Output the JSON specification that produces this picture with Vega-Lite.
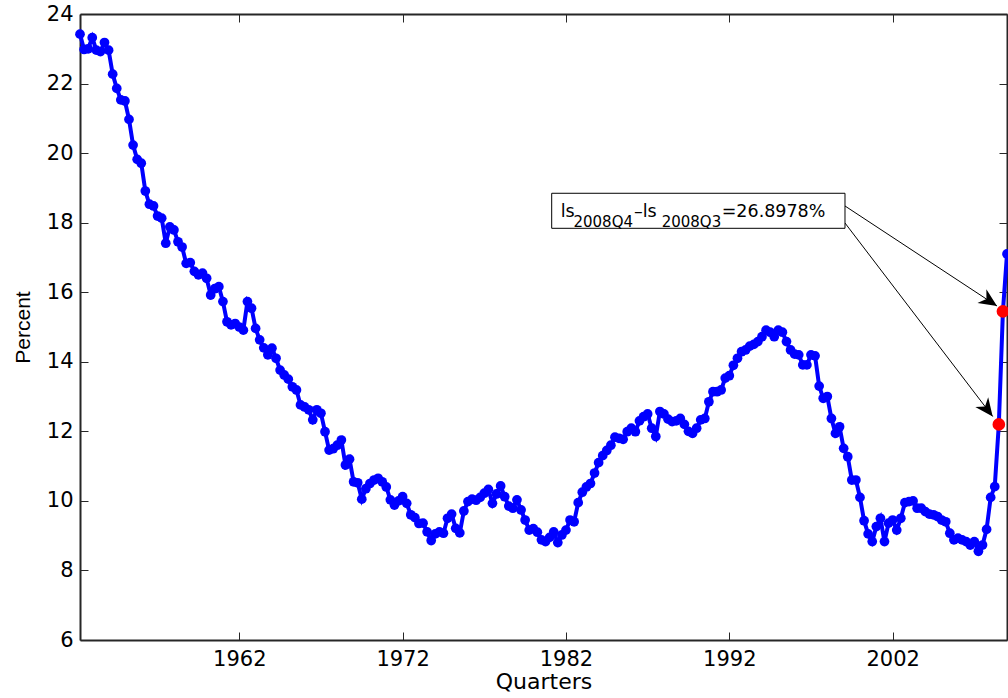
{
  "$schema": "https://vega.github.io/schema/vega-lite/v6.json",
  "width": 927,
  "height": 626,
  "autosize": {"type": "none"},
  "padding": {"left": 80, "top": 14, "right": 1, "bottom": 58},
  "background": "white",
  "config": {"view": {"stroke": null}, "axis": {"grid": false}},
  "datasets": {
    "ls": [
      {"t":1952.25,"v":23.42},{"t":1952.5,"v":22.98},{"t":1952.75,"v":23.0},
      {"t":1953,"v":23.32},{"t":1953.25,"v":22.96},{"t":1953.5,"v":22.92},{"t":1953.75,"v":23.18},
      {"t":1954,"v":22.96},{"t":1954.25,"v":22.27},{"t":1954.5,"v":21.86},{"t":1954.75,"v":21.53},
      {"t":1955,"v":21.5},{"t":1955.25,"v":20.97},{"t":1955.5,"v":20.23},{"t":1955.75,"v":19.82},
      {"t":1956,"v":19.71},{"t":1956.25,"v":18.91},{"t":1956.5,"v":18.53},{"t":1956.75,"v":18.48},
      {"t":1957,"v":18.19},{"t":1957.25,"v":18.13},{"t":1957.5,"v":17.41},{"t":1957.75,"v":17.88},
      {"t":1958,"v":17.79},{"t":1958.25,"v":17.45},{"t":1958.5,"v":17.3},{"t":1958.75,"v":16.83},
      {"t":1959,"v":16.85},{"t":1959.25,"v":16.6},{"t":1959.5,"v":16.5},{"t":1959.75,"v":16.55},
      {"t":1960,"v":16.4},{"t":1960.25,"v":15.92},{"t":1960.5,"v":16.1},{"t":1960.75,"v":16.16},
      {"t":1961,"v":15.73},{"t":1961.25,"v":15.15},{"t":1961.5,"v":15.06},{"t":1961.75,"v":15.1},
      {"t":1962,"v":15.0},{"t":1962.25,"v":14.91},{"t":1962.5,"v":15.73},{"t":1962.75,"v":15.54},
      {"t":1963,"v":14.96},{"t":1963.25,"v":14.63},{"t":1963.5,"v":14.4},{"t":1963.75,"v":14.2},
      {"t":1964,"v":14.39},{"t":1964.25,"v":14.1},{"t":1964.5,"v":13.76},{"t":1964.75,"v":13.62},
      {"t":1965,"v":13.5},{"t":1965.25,"v":13.28},{"t":1965.5,"v":13.19},{"t":1965.75,"v":12.76},
      {"t":1966,"v":12.7},{"t":1966.25,"v":12.62},{"t":1966.5,"v":12.33},{"t":1966.75,"v":12.62},
      {"t":1967,"v":12.52},{"t":1967.25,"v":11.99},{"t":1967.5,"v":11.46},{"t":1967.75,"v":11.5},
      {"t":1968,"v":11.6},{"t":1968.25,"v":11.75},{"t":1968.5,"v":11.03},{"t":1968.75,"v":11.2},
      {"t":1969,"v":10.55},{"t":1969.25,"v":10.52},{"t":1969.5,"v":10.05},{"t":1969.75,"v":10.35},
      {"t":1970,"v":10.5},{"t":1970.25,"v":10.6},{"t":1970.5,"v":10.65},{"t":1970.75,"v":10.55},
      {"t":1971,"v":10.4},{"t":1971.25,"v":10.03},{"t":1971.5,"v":9.88},{"t":1971.75,"v":10.0},
      {"t":1972,"v":10.12},{"t":1972.25,"v":9.93},{"t":1972.5,"v":9.6},{"t":1972.75,"v":9.52},
      {"t":1973,"v":9.35},{"t":1973.25,"v":9.36},{"t":1973.5,"v":9.11},{"t":1973.75,"v":8.86},
      {"t":1974,"v":9.05},{"t":1974.25,"v":9.11},{"t":1974.5,"v":9.07},{"t":1974.75,"v":9.5},
      {"t":1975,"v":9.62},{"t":1975.25,"v":9.21},{"t":1975.5,"v":9.08},{"t":1975.75,"v":9.71},
      {"t":1976,"v":9.98},{"t":1976.25,"v":10.05},{"t":1976.5,"v":10.02},{"t":1976.75,"v":10.1},
      {"t":1977,"v":10.22},{"t":1977.25,"v":10.33},{"t":1977.5,"v":9.93},{"t":1977.75,"v":10.2},
      {"t":1978,"v":10.43},{"t":1978.25,"v":10.12},{"t":1978.5,"v":9.85},{"t":1978.75,"v":9.79},
      {"t":1979,"v":10.03},{"t":1979.25,"v":9.74},{"t":1979.5,"v":9.45},{"t":1979.75,"v":9.16},
      {"t":1980,"v":9.2},{"t":1980.25,"v":9.1},{"t":1980.5,"v":8.88},{"t":1980.75,"v":8.83},
      {"t":1981,"v":8.95},{"t":1981.25,"v":9.11},{"t":1981.5,"v":8.8},{"t":1981.75,"v":9.02},
      {"t":1982,"v":9.16},{"t":1982.25,"v":9.45},{"t":1982.5,"v":9.4},{"t":1982.75,"v":9.95},
      {"t":1983,"v":10.25},{"t":1983.25,"v":10.4},{"t":1983.5,"v":10.5},{"t":1983.75,"v":10.8},
      {"t":1984,"v":11.1},{"t":1984.25,"v":11.3},{"t":1984.5,"v":11.45},{"t":1984.75,"v":11.6},
      {"t":1985,"v":11.83},{"t":1985.25,"v":11.8},{"t":1985.5,"v":11.77},{"t":1985.75,"v":11.99},
      {"t":1986,"v":12.09},{"t":1986.25,"v":11.99},{"t":1986.5,"v":12.3},{"t":1986.75,"v":12.42},
      {"t":1987,"v":12.5},{"t":1987.25,"v":12.09},{"t":1987.5,"v":11.85},{"t":1987.75,"v":12.57},
      {"t":1988,"v":12.5},{"t":1988.25,"v":12.35},{"t":1988.5,"v":12.28},{"t":1988.75,"v":12.3},
      {"t":1989,"v":12.37},{"t":1989.25,"v":12.2},{"t":1989.5,"v":12.0},{"t":1989.75,"v":11.94},
      {"t":1990,"v":12.09},{"t":1990.25,"v":12.33},{"t":1990.5,"v":12.37},{"t":1990.75,"v":12.85},
      {"t":1991,"v":13.14},{"t":1991.25,"v":13.14},{"t":1991.5,"v":13.19},{"t":1991.75,"v":13.53},
      {"t":1992,"v":13.6},{"t":1992.25,"v":13.9},{"t":1992.5,"v":14.1},{"t":1992.75,"v":14.29},
      {"t":1993,"v":14.34},{"t":1993.25,"v":14.45},{"t":1993.5,"v":14.5},{"t":1993.75,"v":14.58},
      {"t":1994,"v":14.72},{"t":1994.25,"v":14.91},{"t":1994.5,"v":14.85},{"t":1994.75,"v":14.72},
      {"t":1995,"v":14.91},{"t":1995.25,"v":14.85},{"t":1995.5,"v":14.58},{"t":1995.75,"v":14.34},
      {"t":1996,"v":14.22},{"t":1996.25,"v":14.2},{"t":1996.5,"v":13.91},{"t":1996.75,"v":13.91},
      {"t":1997,"v":14.2},{"t":1997.25,"v":14.17},{"t":1997.5,"v":13.3},{"t":1997.75,"v":12.95},
      {"t":1998,"v":13.0},{"t":1998.25,"v":12.37},{"t":1998.5,"v":11.94},{"t":1998.75,"v":12.13},
      {"t":1999,"v":11.51},{"t":1999.25,"v":11.27},{"t":1999.5,"v":10.6},{"t":1999.75,"v":10.6},
      {"t":2000,"v":10.1},{"t":2000.25,"v":9.43},{"t":2000.5,"v":9.05},{"t":2000.75,"v":8.83},
      {"t":2001,"v":9.26},{"t":2001.25,"v":9.5},{"t":2001.5,"v":8.83},{"t":2001.75,"v":9.36},
      {"t":2002,"v":9.45},{"t":2002.25,"v":9.16},{"t":2002.5,"v":9.5},{"t":2002.75,"v":9.95},
      {"t":2003,"v":9.98},{"t":2003.25,"v":10.0},{"t":2003.5,"v":9.79},{"t":2003.75,"v":9.79},
      {"t":2004,"v":9.69},{"t":2004.25,"v":9.62},{"t":2004.5,"v":9.6},{"t":2004.75,"v":9.55},
      {"t":2005,"v":9.45},{"t":2005.25,"v":9.4},{"t":2005.5,"v":9.07},{"t":2005.75,"v":8.88},
      {"t":2006,"v":8.93},{"t":2006.25,"v":8.88},{"t":2006.5,"v":8.83},{"t":2006.75,"v":8.73},
      {"t":2007,"v":8.83},{"t":2007.25,"v":8.55},{"t":2007.5,"v":8.73},{"t":2007.75,"v":9.18},
      {"t":2008,"v":10.1},{"t":2008.25,"v":10.41},{"t":2008.5,"v":12.2},{"t":2008.75,"v":15.45},
      {"t":2009,"v":17.1}
    ],
    "arrows": [
      {"t1":1999.082,"v1":18.48,"t2":2008.387,"v2":15.604},
      {"t1":1999.082,"v1":17.99,"t2":2008.124,"v2":12.427}
    ],
    "box": [
      {"t1":1981.127,"t2":1999.082,"v1":18.845,"v2":17.838}
    ],
    "mainText": [
      {"t":1981.678,"v":18.17,"s":"ls"},
      {"t":1986.165,"v":18.17,"s":"–ls"},
      {"t":1991.534,"v":18.17,"s":"=26.8978%"}
    ],
    "subText": [
      {"t":1982.461,"v":17.867,"s":"2008Q4"},
      {"t":1987.861,"v":17.867,"s":"2008Q3"}
    ]
  },
  "layer": [
    {
      "data": {"name": "ls"},
      "mark": {"type": "line", "color": "#0000ff", "strokeWidth": 4},
      "encoding": {
        "x": {
          "field": "t", "type": "quantitative",
          "scale": {"domain": [1952.25, 2009], "nice": false, "zero": false},
          "axis": {
            "orient": "bottom", "values": [1962, 1972, 1982, 1992, 2002], "format": "d",
            "title": "Quarters", "titleFont": "DejaVu Sans", "titleFontSize": 22, "titleFontWeight": "normal",
            "titleColor": "#000000", "titlePadding": 2,
            "labelFont": "DejaVu Sans", "labelFontSize": 21, "labelColor": "#000000", "labelPadding": 16,
            "labelFlush": false, "labelOverlap": false,
            "tickSize": -8, "tickColor": "#262626", "tickWidth": 1,
            "domainColor": "#262626", "domainWidth": 2, "grid": false
          }
        },
        "y": {
          "field": "v", "type": "quantitative",
          "scale": {"domain": [6, 24], "nice": false, "zero": false},
          "axis": {
            "orient": "left", "values": [6, 8, 10, 12, 14, 16, 18, 20, 22, 24],
            "title": "Percent", "titleFont": "Liberation Sans", "titleFontSize": 21, "titleFontWeight": "normal",
            "titleColor": "#000000", "titlePadding": 13,
            "labelFont": "DejaVu Sans", "labelFontSize": 21, "labelColor": "#000000", "labelPadding": 15,
            "labelOverlap": false,
            "tickSize": -8, "tickColor": "#262626", "tickWidth": 1,
            "domainColor": "#262626", "domainWidth": 2, "grid": false
          }
        }
      }
    },
    {
      "data": {"name": "ls"},
      "mark": {"type": "point", "filled": true, "shape": "circle", "color": "#0000ff", "size": 95, "opacity": 1},
      "encoding": {
        "x": {
          "field": "t", "type": "quantitative",
          "scale": {"domain": [1952.25, 2009], "nice": false, "zero": false},
          "axis": {
            "orient": "top", "values": [1962, 1972, 1982, 1992, 2002], "labels": false, "title": null,
            "tickSize": -8, "tickColor": "#262626", "tickWidth": 1,
            "domainColor": "#262626", "domainWidth": 2, "grid": false
          }
        },
        "y": {
          "field": "v", "type": "quantitative",
          "scale": {"domain": [6, 24], "nice": false, "zero": false},
          "axis": {
            "orient": "right", "values": [6, 8, 10, 12, 14, 16, 18, 20, 22, 24], "labels": false, "title": null,
            "tickSize": -8, "tickColor": "#262626", "tickWidth": 1,
            "domainColor": "#262626", "domainWidth": 2, "grid": false
          }
        }
      }
    },
    {
      "data": {"name": "ls"},
      "transform": [{"filter": {"field": "t", "oneOf": [2008.5, 2008.75]}}],
      "mark": {"type": "point", "filled": true, "shape": "circle", "color": "#ff0000", "size": 160, "opacity": 1},
      "encoding": {
        "x": {"field": "t", "type": "quantitative", "scale": {"domain": [1952.25, 2009], "nice": false, "zero": false}, "axis": null},
        "y": {"field": "v", "type": "quantitative", "scale": {"domain": [6, 24], "nice": false, "zero": false}, "axis": null}
      }
    },
    {
      "data": {"name": "arrows"},
      "mark": {"type": "rule", "color": "#000000", "strokeWidth": 1},
      "encoding": {
        "x": {"field": "t1", "type": "quantitative", "scale": {"domain": [1952.25, 2009], "nice": false, "zero": false}, "axis": null},
        "y": {"field": "v1", "type": "quantitative", "scale": {"domain": [6, 24], "nice": false, "zero": false}, "axis": null},
        "x2": {"field": "t2"},
        "y2": {"field": "v2"}
      }
    },
    {
      "data": {"values": [{"t": 2008.387, "v": 15.604}]},
      "mark": {"type": "point", "filled": true, "shape": "M0,0L-1,-0.45L-0.7,0L-1,0.45Z", "angle": 33.3, "size": 1300, "color": "#000000", "opacity": 1},
      "encoding": {
        "x": {"field": "t", "type": "quantitative", "scale": {"domain": [1952.25, 2009], "nice": false, "zero": false}, "axis": null},
        "y": {"field": "v", "type": "quantitative", "scale": {"domain": [6, 24], "nice": false, "zero": false}, "axis": null}
      }
    },
    {
      "data": {"values": [{"t": 2008.124, "v": 12.427}]},
      "mark": {"type": "point", "filled": true, "shape": "M0,0L-1,-0.45L-0.7,0L-1,0.45Z", "angle": 52.6, "size": 1300, "color": "#000000", "opacity": 1},
      "encoding": {
        "x": {"field": "t", "type": "quantitative", "scale": {"domain": [1952.25, 2009], "nice": false, "zero": false}, "axis": null},
        "y": {"field": "v", "type": "quantitative", "scale": {"domain": [6, 24], "nice": false, "zero": false}, "axis": null}
      }
    },
    {
      "data": {"name": "box"},
      "mark": {"type": "rect", "fill": "#ffffff", "stroke": "#000000", "strokeWidth": 1},
      "encoding": {
        "x": {"field": "t1", "type": "quantitative", "scale": {"domain": [1952.25, 2009], "nice": false, "zero": false}, "axis": null},
        "x2": {"field": "t2"},
        "y": {"field": "v1", "type": "quantitative", "scale": {"domain": [6, 24], "nice": false, "zero": false}, "axis": null},
        "y2": {"field": "v2"}
      }
    },
    {
      "data": {"name": "mainText"},
      "mark": {"type": "text", "align": "left", "baseline": "alphabetic", "font": "DejaVu Sans", "fontSize": 17.5, "color": "#000000"},
      "encoding": {
        "x": {"field": "t", "type": "quantitative", "scale": {"domain": [1952.25, 2009], "nice": false, "zero": false}, "axis": null},
        "y": {"field": "v", "type": "quantitative", "scale": {"domain": [6, 24], "nice": false, "zero": false}, "axis": null},
        "text": {"field": "s"}
      }
    },
    {
      "data": {"name": "subText"},
      "mark": {"type": "text", "align": "left", "baseline": "alphabetic", "font": "DejaVu Sans", "fontSize": 15, "color": "#000000"},
      "encoding": {
        "x": {"field": "t", "type": "quantitative", "scale": {"domain": [1952.25, 2009], "nice": false, "zero": false}, "axis": null},
        "y": {"field": "v", "type": "quantitative", "scale": {"domain": [6, 24], "nice": false, "zero": false}, "axis": null},
        "text": {"field": "s"}
      }
    }
  ],
  "resolve": {"axis": {"x": "independent", "y": "independent"}}
}
